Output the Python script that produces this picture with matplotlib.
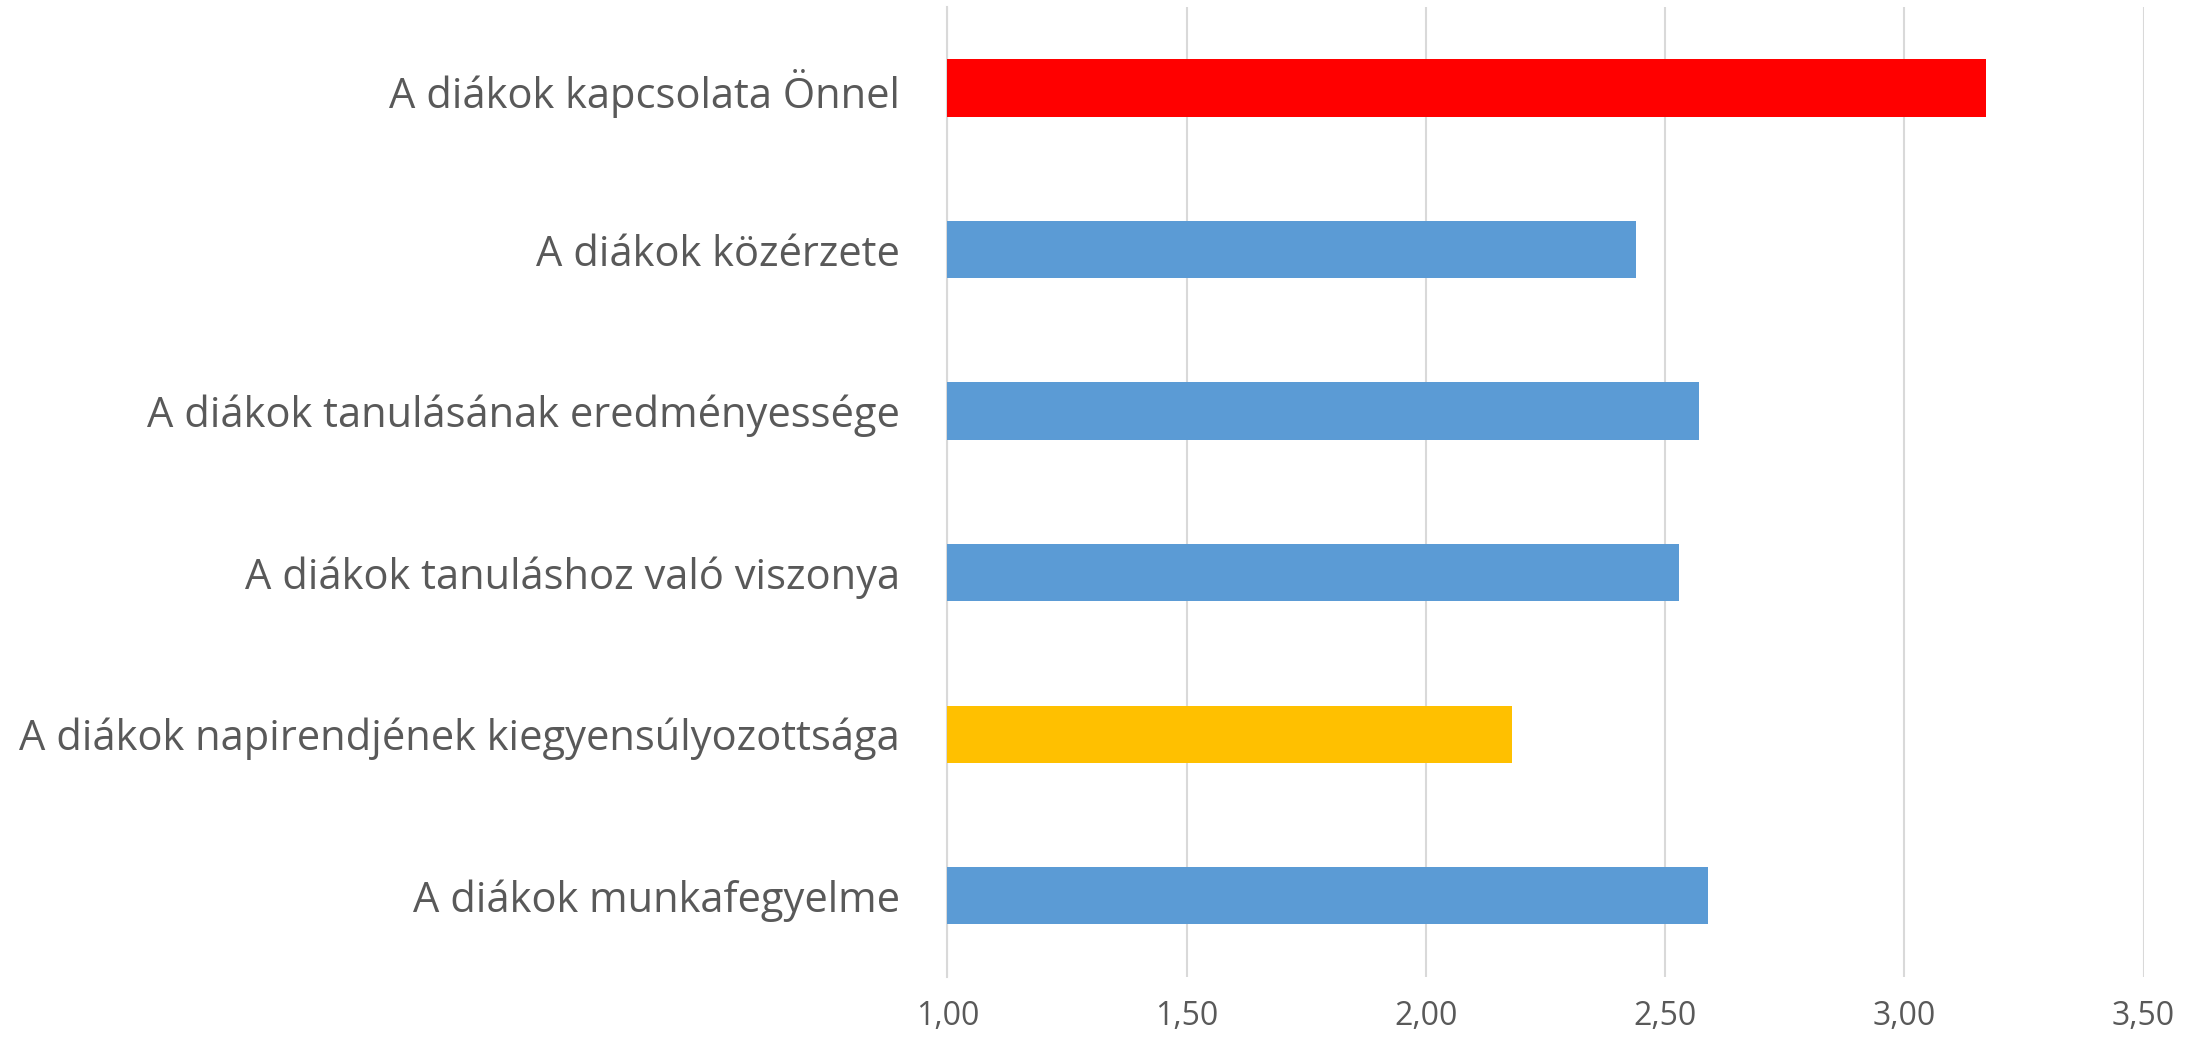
import matplotlib.pyplot as plt

# adatok (felülről lefelé)
kategoriak = [
    'A diákok kapcsolata Önnel',
    'A diákok közérzete',
    'A diákok tanulásának eredményessége',
    'A diákok tanuláshoz való viszonya',
    'A diákok napirendjének kiegyensúlyozottsága',
    'A diákok munkafegyelme',
]
ertekek = [3.17, 2.44, 2.57, 2.53, 2.18, 2.59]
szinek = ['#FF0000', '#5B9BD5', '#5B9BD5', '#5B9BD5', '#FFC000', '#5B9BD5']
x_tickek = [1.0, 1.5, 2.0, 2.5, 3.0, 3.5]
x_tick_cimkek = ['1,00', '1,50', '2,00', '2,50', '3,00', '3,50']

plt.rcParams['font.family'] = ['Open Sans', 'DejaVu Sans']

fig = plt.figure(figsize=(22.03, 10.44), dpi=100)
ax = fig.add_axes([0.430, 0.0646, 0.543, 0.9284])

y = range(len(kategoriak))
ax.barh(y, [v - 1.0 for v in ertekek], left=1.0, height=0.355, color=szinek, zorder=3)

ax.set_xlim(1.0, 3.5)
ax.set_ylim(len(kategoriak) - 0.5, -0.5)
ax.set_yticks(list(y))
ax.set_yticklabels(kategoriak, fontsize=30, color='#595959')
ax.set_xticks(x_tickek)
ax.set_xticklabels(x_tick_cimkek, fontsize=23, color='#595959')
ax.tick_params(axis='y', length=0, pad=34)
ax.tick_params(axis='x', length=0, pad=17)

ax.grid(axis='x', color='#D9D9D9', linewidth=1.5, zorder=0)
for s in ['top', 'right', 'bottom']:
    ax.spines[s].set_visible(False)
ax.spines['left'].set_color('#D9D9D9')
ax.spines['left'].set_linewidth(1.5)

fig.savefig('out.png', dpi=100)
